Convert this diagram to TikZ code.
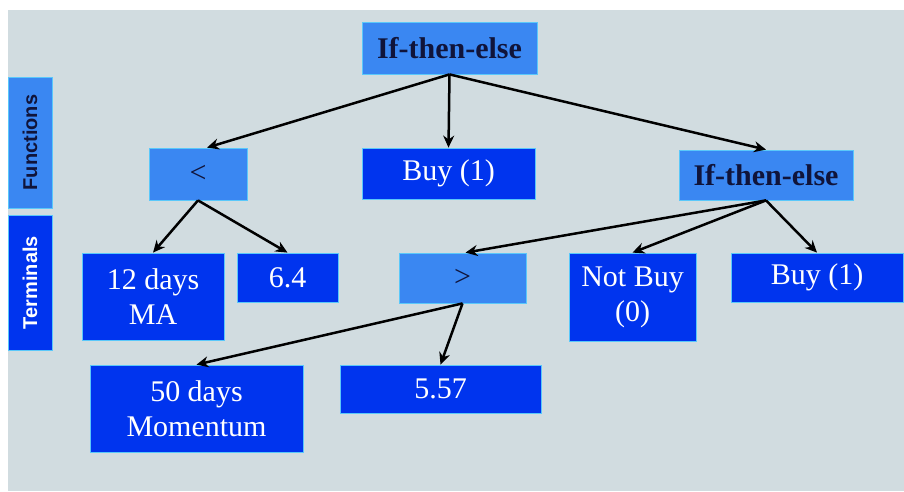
\documentclass[tikz,border=0pt]{standalone}
\usepackage{fontspec}
\setmainfont{Liberation Serif}
\setsansfont{Liberation Sans}
\usetikzlibrary{arrows.meta}
\definecolor{bgc}{RGB}{209,220,224}
\definecolor{lightb}{RGB}{58,135,242}
\definecolor{darkb}{RGB}{0,52,238}
\definecolor{edgec}{RGB}{90,200,250}
\definecolor{navy}{RGB}{16,20,58}
\tikzset{
  fbox/.style={draw=edgec, line width=0.8pt, fill=lightb, inner sep=0pt, align=center,
    text=navy, font=\fontsize{30}{35}\selectfont},
  tbox/.style={draw=edgec, line width=0.8pt, fill=darkb, inner sep=0pt, align=center,
    text=white, font=\fontsize{30}{35}\selectfont},
  side/.style={draw=edgec, line width=0.8pt, inner sep=0pt, minimum width=44pt,
    font=\sffamily\bfseries\fontsize{20}{24}\selectfont},
  link/.style={line width=2.5pt, -{Stealth[length=12pt,width=11pt]}, black}
}
\begin{document}
\begin{tikzpicture}[x=1pt,y=-1pt]
\useasboundingbox (0,0) rectangle (904,491);
\fill[white] (0,0) rectangle (904,491);
\fill[bgc] (8,10) rectangle (904,491);
% side labels
\node[side, fill=lightb, text=navy, minimum height=131pt] (functions) at (30,142.5) {\rotatebox{90}{Functions}};
\node[side, fill=darkb, text=white, minimum height=135pt] (terminals) at (30,282.5) {\rotatebox{90}{Terminals}};
% nodes
\node[fbox, minimum width=175pt, minimum height=52pt] (top) at (449.5,48) {\textbf{If-then-else}};
\node[fbox, minimum width=98pt, minimum height=52pt] (lt) at (198,174) {<};
\node[tbox, minimum width=173pt, minimum height=51pt] (buy1) at (448.5,173.5) {Buy (1)};
\node[fbox, minimum width=174pt, minimum height=50pt] (ite2) at (766,175) {\textbf{If-then-else}};
\node[tbox, minimum width=142pt, minimum height=87pt] (ma12) at (153,296.5) {12 days\\MA};
\node[tbox, minimum width=101pt, minimum height=49pt] (v64) at (287.5,277.5) {6.4};
\node[fbox, minimum width=127pt, minimum height=50pt] (gt) at (462.5,278) {>};
\node[tbox, minimum width=127pt, minimum height=88pt] (notbuy) at (632.5,297) {Not Buy\\(0)};
\node[tbox, minimum width=172pt, minimum height=49pt] (buy2) at (817,277.5) {Buy (1)};
\node[tbox, minimum width=213pt, minimum height=87pt] (m50) at (196.5,408.5) {50 days\\Momentum};
\node[tbox, minimum width=201pt, minimum height=48pt] (v557) at (440.5,389) {5.57};
% connectors
\draw[link] (top.south) -- ([xshift=9pt]lt.north);
\draw[link] (top.south) -- (buy1.north);
\draw[link] (top.south) -- (ite2.north);
\draw[link] (lt.south) -- (ma12.north);
\draw[link] (lt.south) -- (v64.north);
\draw[link] (ite2.south) -- ([xshift=3pt]gt.north);
\draw[link] (ite2.south) -- (notbuy.north);
\draw[link] (ite2.south) -- (buy2.north);
\draw[link] (gt.south) -- (m50.north);
\draw[link] (gt.south) -- (v557.north);
\end{tikzpicture}
\end{document}
